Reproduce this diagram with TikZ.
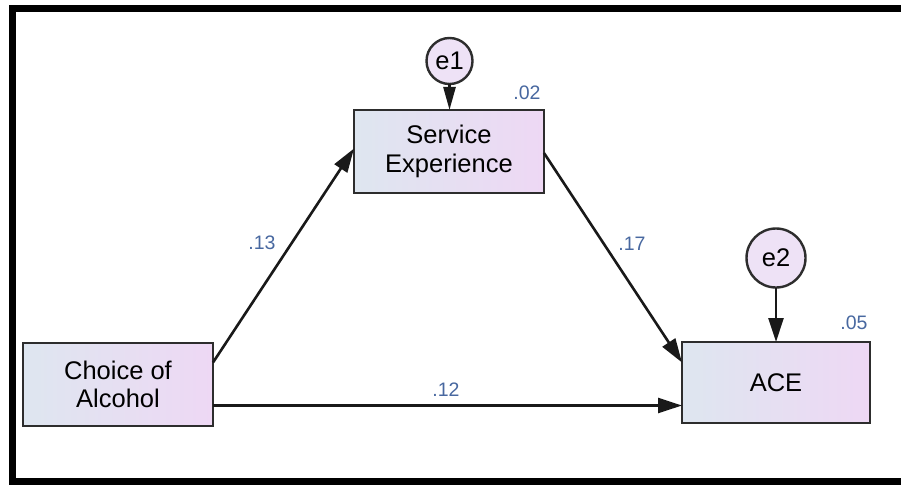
\documentclass[tikz,border=0pt]{standalone}
\usepackage{fontspec}
\setmainfont{Liberation Sans}
\usetikzlibrary{arrows.meta}

\definecolor{boxleft}{RGB}{222,230,240}
\definecolor{boxright}{RGB}{238,216,244}
\definecolor{errfill}{RGB}{238,226,246}
\definecolor{edgegray}{RGB}{45,45,45}
\definecolor{coef}{RGB}{72,104,160}

\tikzset{
  observed/.style={draw=edgegray, line width=2.6pt, left color=boxleft, right color=boxright,
    minimum width=190pt, minimum height=83pt, inner sep=0pt, outer sep=0pt, align=center,
    font=\fontsize{25.5}{28.5}\selectfont},
  errvar/.style={circle, draw=edgegray, line width=2.4pt, fill=errfill, inner sep=0pt,
    outer sep=0pt, font=\fontsize{25.5}{28.5}\selectfont},
  path/.style={draw=black!90, line width=2.6pt, -{Triangle[length=24pt, width=15pt]}},
  coeflabel/.style={text=coef, font=\fontsize{19.5}{22}\selectfont, inner sep=0pt}
}

\begin{document}
\begin{tikzpicture}[x=1pt, y=-1pt]
  \useasboundingbox (0,0) rectangle (901,484);
  \fill[white] (0,0) rectangle (901,484);

  % outer frame (open on the right)
  \begin{scope}
    \clip (0,0) rectangle (901,484);
    \draw[line width=7pt, line join=miter] (910,9) -- (12.5,9) -- (12.5,481) -- (910,481);
  \end{scope}

  % variables
  \node[observed] (serv) at (449,151.5) {Service\\Experience};
  \node[observed] (choice) at (118,384.5) {Choice of\\Alcohol};
  \node[observed, minimum width=188pt, minimum height=81pt] (ace) at (776,382.5) {ACE};
  \node[errvar, minimum size=46pt] (e1) at (449.5,61) {e1};
  \node[errvar, minimum size=59pt] (e2) at (776,258) {e2};

  % regression paths
  \draw[path] ([yshift=22pt]choice.east) -- ([yshift=3pt]serv.west);
  \draw[path] ([yshift=-1.5pt]serv.east) -- ([yshift=20pt]ace.west);
  \coordinate (direct) at ([yshift=-21pt]choice.east);
  \draw[path] (direct) -- (direct -| ace.west);

  % error terms
  \draw[path, -{Triangle[length=23pt, width=12pt]}] (e1) -- (e1 |- serv.north);
  \draw[path] (e2) -- (ace.north);

  % estimates
  \node[coeflabel] (l13) at (262,243) {.13};
  \node[coeflabel] (l17) at (632,244) {.17};
  \node[coeflabel] (l12) at (446,390) {.12};
  \node[coeflabel] (l02) at (527,93) {.02};
  \node[coeflabel] (l05) at (854,323) {.05};
\end{tikzpicture}
\end{document}
